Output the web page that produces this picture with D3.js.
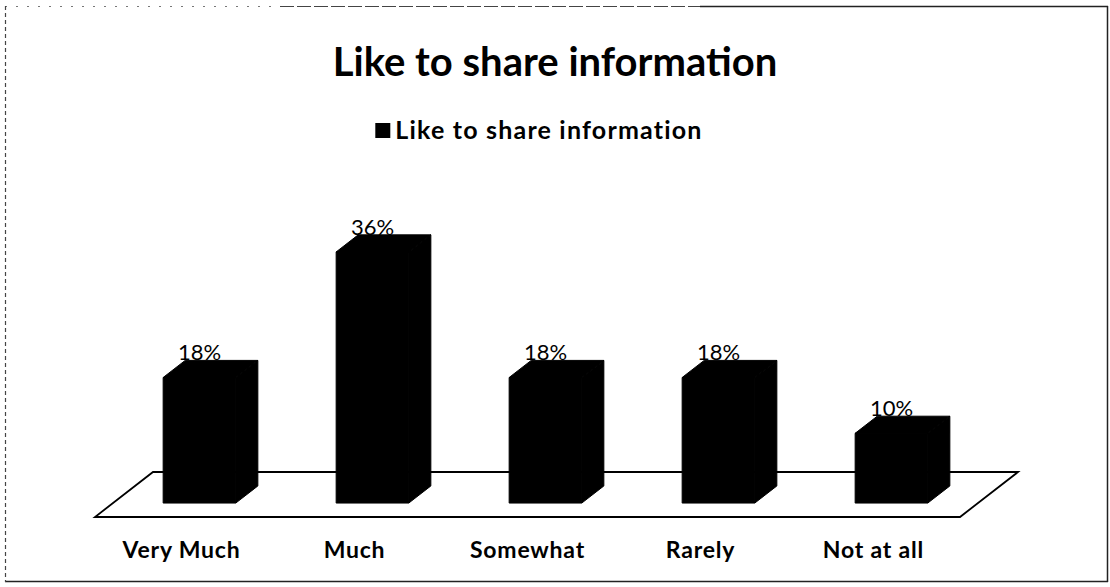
<!DOCTYPE html>
<html>
<head>
<meta charset="utf-8">
<script src="https://cdn.jsdelivr.net/npm/d3@7/dist/d3.min.js"></script>
<style>
  html, body { margin: 0; padding: 0; background: #fff; }
  svg { display: block; }
</style>
</head>
<body>
<svg id="chart" width="1110" height="587"></svg>
<script>
// Survey answers: how much respondents like to share information
const categories = ["Very Much", "Much", "Somewhat", "Rarely", "Not at all"];
const values = [18, 36, 18, 18, 10];           // percent
const seriesName = "Like to share information";
const chartTitle = "Like to share information";

const svg = d3.select("#chart");
const W = 1110, H = 587;
const FONT = "Lato, 'Open Sans', sans-serif";

// outer chart frame (the printed copy has a broken top-left edge)
const frame = svg.append("g").attr("fill", "none").attr("stroke", "#222");
frame.append("line").attr("x1", 5).attr("y1", 6.5).attr("x2", 280).attr("y2", 6.5)
  .attr("stroke-width", 1).attr("stroke-dasharray", "2,9").attr("stroke", "#777");
frame.append("line").attr("x1", 280).attr("y1", 6.5).attr("x2", 700).attr("y2", 6.5)
  .attr("stroke-width", 1.2).attr("stroke-dasharray", "14,3").attr("stroke", "#444");
frame.append("line").attr("x1", 700).attr("y1", 6.5).attr("x2", 1108).attr("y2", 6.5)
  .attr("stroke-width", 1.5);
frame.append("line").attr("x1", 1107.5).attr("y1", 6).attr("x2", 1107.5).attr("y2", 582)
  .attr("stroke-width", 1.5);
frame.append("line").attr("x1", 5).attr("y1", 581.5).attr("x2", 1108).attr("y2", 581.5)
  .attr("stroke-width", 1.5);
frame.append("line").attr("x1", 5.5).attr("y1", 6).attr("x2", 5.5).attr("y2", 582)
  .attr("stroke-width", 1.2).attr("stroke-dasharray", "4,3").attr("stroke", "#444");

// 3D floor geometry: front-left corner, width along categories, depth vector
const origin = { x: 95, y: 517 };
const floorWidth = 865;
const depth = { dx: 58, dy: -45 };
const barFront = 0.31, barBack = 0.69;   // bar slab position inside the floor depth

const x = d3.scaleBand()
  .domain(categories)
  .range([0, floorWidth])
  .paddingInner(0.58)
  .paddingOuter(0.29);

const y = d3.scaleLinear().domain([0, 40]).range([0, 279]);

// project (u along floor, t into depth, h height) to screen
const P = (u, t, h) => [origin.x + u + depth.dx * t, origin.y + depth.dy * t - h];

// floor
svg.append("polygon")
  .attr("points", [P(0, 0, 0), P(floorWidth, 0, 0), P(floorWidth, 1, 0), P(0, 1, 0)].join(" "))
  .attr("fill", "#fff")
  .attr("stroke", "#000")
  .attr("stroke-width", 1.8)
  .attr("stroke-linejoin", "miter");

// bars: front face, top face and right side face, all solid black
const bw = x.bandwidth();
const bars = svg.append("g").selectAll("g")
  .data(categories.map((c, i) => ({ c, v: values[i] })))
  .join("g")
  .attr("fill", "#000")
  .attr("stroke", "#000")
  .attr("stroke-width", 1)
  .attr("stroke-linejoin", "round");

bars.append("polygon")
  .attr("points", d => {
    const u0 = x(d.c), u1 = u0 + bw, h = y(d.v);
    return [P(u0, barFront, 0), P(u1, barFront, 0), P(u1, barFront, h), P(u0, barFront, h)].join(" ");
  });

bars.append("polygon")
  .attr("points", d => {
    const u0 = x(d.c), u1 = u0 + bw, h = y(d.v);
    return [P(u0, barFront, h), P(u1, barFront, h), P(u1, barBack, h), P(u0, barBack, h)].join(" ");
  });

bars.append("polygon")
  .attr("points", d => {
    const u1 = x(d.c) + bw, h = y(d.v);
    return [P(u1, barFront, 0), P(u1, barBack, 0), P(u1, barBack, h), P(u1, barFront, h)].join(" ");
  });

// value labels above each bar
bars.append("text")
  .attr("x", d => P(x(d.c) + bw / 2, barFront, 0)[0])
  .attr("y", d => P(0, barBack, y(d.v))[1])
  .attr("text-anchor", "middle")
  .attr("stroke", "none")
  .attr("font-family", FONT)
  .attr("font-size", 22)
  .attr("fill", "#000")
  .text(d => d.v + "%");

// category labels under the floor
svg.append("g").selectAll("text")
  .data(categories)
  .join("text")
  .attr("x", d => origin.x + x(d) + bw / 2)
  .attr("y", 558)
  .attr("text-anchor", "middle")
  .attr("font-family", FONT)
  .attr("font-weight", "bold")
  .attr("font-size", 23)
  .attr("letter-spacing", 0.8)
  .attr("fill", "#000")
  .text(d => d);

// title
svg.append("text")
  .attr("x", W / 2)
  .attr("y", 76)
  .attr("text-anchor", "middle")
  .attr("font-family", FONT)
  .attr("font-weight", "bold")
  .attr("font-size", 40)
  .attr("fill", "#000")
  .text(chartTitle);

// legend
const legend = svg.append("g");
const legendText = legend.append("text")
  .attr("y", 139)
  .attr("font-family", FONT)
  .attr("font-weight", "bold")
  .attr("font-size", 25)
  .attr("letter-spacing", 1.2)
  .attr("fill", "#000")
  .text(seriesName);
const tw = legendText.node().getComputedTextLength();
const sw = 15, gap = 5;
const lx = 539 - (sw + gap + tw) / 2;
legend.append("rect")
  .attr("x", lx).attr("y", 123)
  .attr("width", sw).attr("height", sw)
  .attr("fill", "#000");
legendText.attr("x", lx + sw + gap);
</script>
</body>
</html>
